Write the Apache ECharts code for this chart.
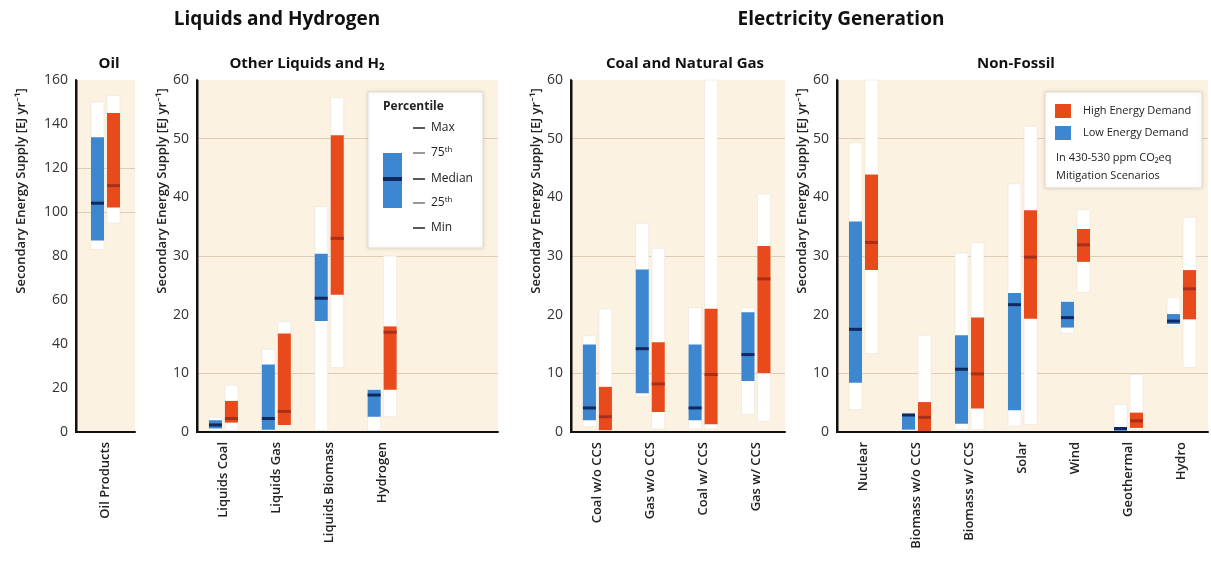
<!DOCTYPE html>
<html>
<head>
<meta charset="utf-8">
<script src="https://cdn.jsdelivr.net/npm/echarts@6/dist/echarts.min.js"></script>
<style>
  html, body { margin: 0; padding: 0; background: #fff; }
  #chart { width: 1211px; height: 561px; }
</style>
</head>
<body>
<div id="chart"></div>
<script>
// each row: [min, 25th, median, 75th, max]  (EJ/yr)
const oilCats = ['Oil Products'];
const oilLow = [[83, 87, 104, 134, 150]];
const oilHigh = [[95, 102, 112, 145, 153]];

const liqCats = ['Liquids Coal', 'Liquids Gas', 'Liquids Biomass', 'Hydrogen'];
const liqLow = [
  [0.2, 0.6, 1.2, 2.0, 2.5],
  [0, 0.4, 2.3, 11.5, 14.1],
  [0.3, 18.9, 22.8, 30.4, 38.4],
  [0.3, 2.6, 6.3, 7.2, 7.5]
];
const liqHigh = [
  [0.3, 1.6, 2.3, 5.3, 8.0],
  [1.0, 1.2, 3.5, 16.8, 18.8],
  [11, 23.4, 33, 50.6, 57],
  [2.6, 7.2, 17, 18, 30]
];

const fossilCats = ['Coal w/o CCS', 'Gas w/o CCS', 'Coal w/ CCS', 'Gas w/ CCS'];
const fossilLow = [
  [0.9, 2.0, 4.1, 14.9, 16.4],
  [6.0, 6.6, 14.2, 27.7, 35.6],
  [0.5, 2.0, 4.1, 14.9, 21.2],
  [3.0, 8.7, 13.2, 20.4, 21.2]
];
const fossilHigh = [
  [0, 0.3, 2.6, 7.7, 21],
  [0.5, 3.4, 8.2, 15.3, 31.3],
  [0.5, 1.3, 9.8, 21, 60],
  [1.8, 10, 26.1, 31.7, 40.6]
];

const nfCats = ['Nuclear', 'Biomass w/o CCS', 'Biomass w/ CCS', 'Solar', 'Wind', 'Geothermal', 'Hydro'];
const nfLow = [
  [3.8, 8.4, 17.5, 35.9, 49.3],
  [0, 0.4, 2.9, 3.1, 3.3],
  [0.4, 1.4, 10.7, 16.5, 30.5],
  [1.0, 3.7, 21.7, 23.7, 42.3],
  [16.8, 17.8, 19.5, 22.2, 22.5],
  [0, 0.2, 0.6, 0.7, 4.7],
  [18.1, 18.4, 18.9, 20.1, 22.9]
];
const nfHigh = [
  [13.4, 27.6, 32.3, 43.9, 60],
  [0, 0.1, 2.5, 5.1, 16.5],
  [0.4, 4.0, 9.9, 19.5, 32.3],
  [1.3, 19.3, 29.8, 37.8, 52.1],
  [23.8, 29.0, 31.9, 34.6, 37.9],
  [0.4, 0.7, 1.9, 3.3, 9.8],
  [11.0, 19.2, 24.4, 27.6, 36.6]
];

// y range [min, max, step] and the faint reference lines
const oilTicks = [0, 160, 20];
const otherTicks = [0, 60, 10];
const oilRefLines = [100, 120];
const otherRefLines = [10, 30, 50];

const BLUE = '#3d86d0';
const RED = '#e84a1c';
const BLUE_MED = '#102a60';
const RED_MED = '#a8301a';
const FONT = '"Open Sans", "Noto Sans", sans-serif';
const Y_NAME = 'Secondary Energy Supply [EJ yr⁻¹]';

const chart = echarts.init(document.getElementById('chart'));

// x runs from 0; category k sits at k + 0.5
const panels = [
  { left: 76, width: 59, cats: oilCats, low: oilLow, high: oilHigh, ticks: oilTicks, refs: oilRefLines, xmax: 1, nameGap: 48 },
  { left: 197, width: 301, cats: liqCats, low: liqLow, high: liqHigh, ticks: otherTicks, refs: otherRefLines, xmax: 5.69, nameGap: 28 },
  { left: 571, width: 214, cats: fossilCats, low: fossilLow, high: fossilHigh, ticks: otherTicks, refs: otherRefLines, xmax: 4.05, nameGap: 28 },
  { left: 837, width: 371, cats: nfCats, low: nfLow, high: nfHigh, ticks: otherTicks, refs: otherRefLines, xmax: 7, nameGap: 28 }
];

function renderBox(color, medColor, shift, yExtent) {
  return function (params, api) {
    const x = api.value(0);
    const w = 13;
    const pMin = api.coord([x, api.value(1)]);
    const p25 = api.coord([x, api.value(2)]);
    const pMed = api.coord([x, api.value(3)]);
    const p75 = api.coord([x, api.value(4)]);
    const pMax = api.coord([x, api.value(5)]);
    const left = pMin[0] + shift - w / 2;
    const children = [
      { type: 'rect', shape: { x: left, y: pMax[1], width: w, height: pMin[1] - pMax[1] },
        style: { fill: '#ffffff', stroke: '#e9e4da', lineWidth: 0.6 } },
      { type: 'rect', shape: { x: left, y: p75[1], width: w, height: p25[1] - p75[1] },
        style: { fill: color } },
      { type: 'rect', shape: { x: left, y: pMed[1] - 1.5, width: w, height: 3 },
        style: { fill: medColor } }
    ];
    if (yExtent && params.dataIndex === 0) {
      // vertical axis line along x = 0
      const a = api.coord([0, yExtent[0]]);
      const b = api.coord([0, yExtent[1]]);
      children.push({ type: 'rect', shape: { x: a[0] - 1, y: b[1], width: 2.5, height: a[1] - b[1] + 1 },
        style: { fill: '#111' } });
    }
    return { type: 'group', children: children };
  };
}

const grids = [], xAxes = [], yAxes = [], series = [];
panels.forEach((p, i) => {
  grids.push({ left: p.left, width: p.width, top: 80, height: 352, show: false });
  xAxes.push({
    type: 'value', gridIndex: i, min: 0, max: p.xmax, interval: 0.5, z: 10,
    axisLine: { show: true, lineStyle: { color: '#111', width: 2 } },
    axisTick: { show: false }, splitLine: { show: false },
    axisLabel: {
      rotate: 90, margin: 10, color: '#222', fontSize: 13, fontWeight: 600, fontFamily: FONT,
      showMinLabel: true, showMaxLabel: true,
      formatter: v => {
        const k = v - 0.5;
        return (Number.isInteger(k) && p.cats[k]) ? p.cats[k] : '';
      }
    }
  });
  yAxes.push({
    type: 'value', gridIndex: i, position: 'left', min: p.ticks[0], max: p.ticks[1], interval: p.ticks[2], z: 10,
    name: Y_NAME, nameLocation: 'middle', nameRotate: 90, nameGap: p.nameGap,
    nameTextStyle: { color: '#222', fontSize: 13, fontWeight: 600, fontFamily: FONT, padding: [0, 0, 0, 130] },
    axisLine: { show: true, lineStyle: { color: '#111', width: 2 } },
    axisTick: { show: false },
    axisLabel: { color: '#333', fontSize: 14, fontFamily: FONT, margin: 8 },
    splitLine: { show: false }
  });
  series.push({
    type: 'custom', xAxisIndex: i, yAxisIndex: i, clip: false, z: 3,
    renderItem: renderBox(BLUE, BLUE_MED, -8),
    encode: { x: 0, y: [1, 2, 3, 4, 5] },
    data: p.low.map((d, k) => [k + 0.5].concat(d)),
    markArea: {
      silent: true, z: 1,
      itemStyle: { color: '#fbf2e1' },
      data: [[{ xAxis: 0, yAxis: p.ticks[0] }, { xAxis: p.xmax, yAxis: p.ticks[1] }]]
    },
    markLine: {
      silent: true, symbol: 'none', z: 2,
      label: { show: false },
      lineStyle: { color: '#d9cdb6', width: 1, type: 'solid' },
      data: p.refs.map(v => ({ yAxis: v }))
    }
  });
  series.push({
    type: 'custom', xAxisIndex: i, yAxisIndex: i, clip: false, z: 4,
    renderItem: renderBox(RED, RED_MED, 8, [p.ticks[0], p.ticks[1]]),
    encode: { x: 0, y: [1, 2, 3, 4, 5] },
    data: p.high.map((d, k) => [k + 0.5].concat(d))
  });
});

const titleStyle = (size) => ({ color: '#111', fontSize: size, fontWeight: 'bold', fontFamily: FONT });

const pctY = [128, 153, 179, 203, 228];
const pctLabels = ['Max', '75ᵗʰ', 'Median', '25ᵗʰ', 'Min'];
const legendText = (x, y, text, extra) => ({
  type: 'text', x: x, y: y, z: 20,
  style: Object.assign({ text: text, fill: '#222', font: '12px ' + FONT, verticalAlign: 'middle' }, extra || {})
});

const graphics = [
  // percentile key
  { type: 'rect', z: 19, shape: { x: 368, y: 92, width: 115, height: 156 },
    style: { fill: '#fff', stroke: '#e2ddd3', lineWidth: 1, shadowBlur: 4, shadowColor: 'rgba(0,0,0,0.12)' } },
  legendText(383, 107, 'Percentile', { font: 'bold 12px ' + FONT }),
  { type: 'rect', z: 20, shape: { x: 383, y: 153, width: 19, height: 55 }, style: { fill: BLUE } },
  { type: 'rect', z: 20, shape: { x: 383, y: 177, width: 19, height: 4 }, style: { fill: BLUE_MED } },
  // demand key
  { type: 'rect', z: 19, shape: { x: 1045, y: 92, width: 157, height: 96 },
    style: { fill: '#fff', stroke: '#e2ddd3', lineWidth: 1, shadowBlur: 4, shadowColor: 'rgba(0,0,0,0.12)' } },
  { type: 'rect', z: 20, shape: { x: 1055, y: 104, width: 16, height: 14 }, style: { fill: RED } },
  { type: 'rect', z: 20, shape: { x: 1055, y: 126, width: 16, height: 14 }, style: { fill: BLUE } },
  legendText(1083, 111, 'High Energy Demand', { font: '11px ' + FONT }),
  legendText(1083, 133, 'Low Energy Demand', { font: '11px ' + FONT }),
  legendText(1056, 158, 'In 430-530 ppm CO₂eq', { font: '11px ' + FONT }),
  legendText(1056, 176, 'Mitigation Scenarios', { font: '11px ' + FONT })
];
pctY.forEach((y, k) => {
  graphics.push({ type: 'line', z: 20, shape: { x1: 413, y1: y, x2: 425, y2: y },
    style: { stroke: (k === 1 || k === 3) ? '#777' : '#222', lineWidth: 1.5 } });
  graphics.push(legendText(431, y, pctLabels[k]));
});

chart.setOption({
  animation: false,
  backgroundColor: '#ffffff',
  title: [
    { text: 'Liquids and Hydrogen', left: 272, top: 5, textAlign: 'center', textStyle: titleStyle(19) },
    { text: 'Electricity Generation', left: 836, top: 5, textAlign: 'center', textStyle: titleStyle(19) },
    { text: 'Oil', left: 104, top: 51, textAlign: 'center', textStyle: titleStyle(15) },
    { text: 'Other Liquids and H₂', left: 302, top: 51, textAlign: 'center', textStyle: titleStyle(15) },
    { text: 'Coal and Natural Gas', left: 680, top: 51, textAlign: 'center', textStyle: titleStyle(15) },
    { text: 'Non-Fossil', left: 1011, top: 51, textAlign: 'center', textStyle: titleStyle(15) }
  ],
  grid: grids,
  xAxis: xAxes,
  yAxis: yAxes,
  series: series,
  graphic: graphics
});
</script>
</body>
</html>
